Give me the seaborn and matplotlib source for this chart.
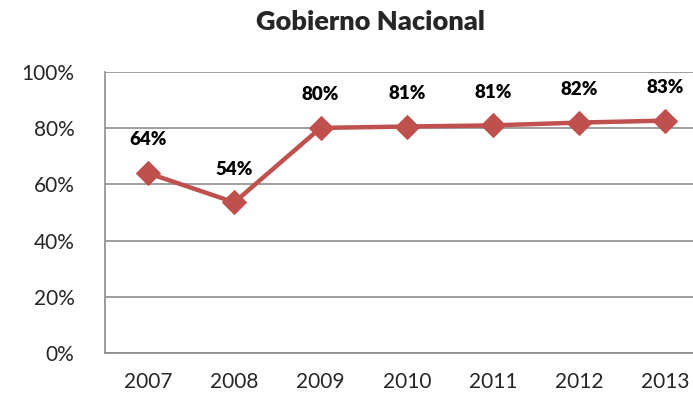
import matplotlib
matplotlib.use('Agg')

import pandas as pd
import matplotlib.pyplot as plt
import seaborn as sns

years = ['2007', '2008', '2009', '2010', '2011', '2012', '2013']
values = [64, 53.6, 80.1, 80.6, 81.0, 82.0, 82.7]
yticks = [0, 20, 40, 60, 80, 100]

df = pd.DataFrame({'year': years, 'value': values})

sns.set_style('white')
plt.rcParams['font.family'] = ['Lato', 'DejaVu Sans']

fig = plt.figure(figsize=(6.93, 4.01), dpi=100)
ax = fig.add_axes([105/693, 1-353/401, 1-105/693, (353-72)/401])

sns.lineplot(data=df, x='year', y='value', ax=ax, color='#C0504D', linewidth=3.2,
             marker='D', markersize=12, markeredgecolor='#C0504D', sort=False)

# data labels
for i, v in enumerate(values):
    ax.annotate('%d%%' % round(v), (i, v), xytext=(0, 24), textcoords='offset points',
                ha='center', va='center', fontsize=13.5, fontweight='heavy', color='black')

ax.set_ylim(0, 100)
ax.set_xlim(-0.5, 6.32)
ax.set_yticks(yticks)
ax.set_yticklabels(['%d%%' % t for t in yticks], fontsize=15)
ax.tick_params(axis='x', labelsize=15, length=0, pad=14)
ax.tick_params(axis='y', length=0, pad=22)
ax.yaxis.grid(True, color='#8c8c8c', linewidth=1.2)
ax.set_axisbelow(True)
for s in ['top', 'right']:
    ax.spines[s].set_visible(False)
for s in ['left', 'bottom']:
    ax.spines[s].set_color('#8c8c8c')
    ax.spines[s].set_linewidth(1.2)
ax.set_xlabel('')
ax.set_ylabel('')

fig.text(0.534, 1-22/401, 'Gobierno Nacional', ha='center', va='center',
         fontsize=19.5, fontweight='heavy')

fig.savefig('out.png', dpi=100)
